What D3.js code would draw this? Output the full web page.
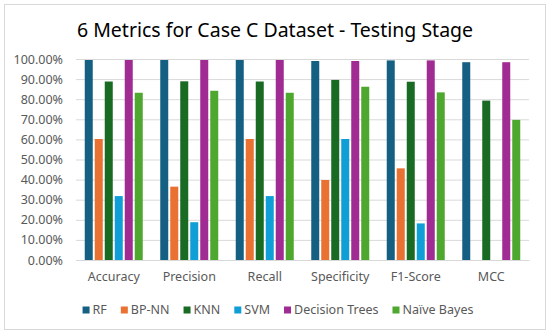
<!DOCTYPE html>
<html>
<head>
<meta charset="utf-8">
<script src="https://cdn.jsdelivr.net/npm/d3@7"></script>
<style>
  body { margin: 0; background: #fff; }
  text { font-family: "Noto Sans", "Open Sans", sans-serif; }
</style>
</head>
<body>
<div id="chart"></div>
<script>
(function () {

  const metrics = ['Accuracy', 'Precision', 'Recall', 'Specificity', 'F1-Score', 'MCC']
  const models = ['RF', 'BP-NN', 'KNN', 'SVM', 'Decision Trees', 'Naïve Bayes']
  const colors = ['#156082', '#e97132', '#196b24', '#0f9ed5', '#a02b93', '#4ea72e']

  // one array per model, values in percent, same order as metrics
  const rf = [99.5, 99.5, 99.5, 99.0, 99.3, 98.4]
  const bpnn = [60.2, 36.5, 60.2, 39.8, 45.6, 0]
  const knn = [88.8, 88.9, 88.8, 89.6, 88.7, 79.3]
  const svm = [31.8, 18.8, 31.8, 60.2, 18.2, 0]
  const decisionTrees = [99.5, 99.5, 99.5, 99.0, 99.3, 98.4]
  const naiveBayes = [83.2, 84.2, 83.2, 86.2, 83.4, 69.7]
  const yTicks = [0, 10, 20, 30, 40, 50, 60, 70, 80, 90, 100]

  const seriesValues = [rf, bpnn, knn, svm, decisionTrees, naiveBayes]

  const W = 550
  const H = 334
  const margin = { top: 59, right: 21, bottom: 74, left: 76 }
  const width = W - margin.left - margin.right
  const height = H - margin.top - margin.bottom

  const root = d3.select('#chart').append('svg')
    .attr('width', W)
    .attr('height', H)

  // chart border
  root.append('rect')
    .attr('x', 4.5).attr('y', 4.5)
    .attr('width', W - 9).attr('height', H - 9)
    .attr('fill', '#fff')
    .attr('stroke', '#d9d9d9')

  root.append('text')
    .attr('x', W / 2)
    .attr('y', 37)
    .attr('text-anchor', 'middle')
    .attr('font-size', 19.5)
    .attr('fill', '#000')
    .text('6 Metrics for Case C Dataset - Testing Stage')

  const svg = root.append('g')
    .attr('transform', 'translate(' + margin.left + ',' + margin.top + ')')

  const xPositionScale = d3.scaleBand()
    .domain(metrics)
    .range([0, width])

  const groupWidth = 60
  const xInner = d3.scaleBand()
    .domain(models)
    .range([0, groupWidth])
    .paddingInner(0.2)
    .paddingOuter(0.1)

  const yPositionScale = d3.scaleLinear()
    .domain([0, 100])
    .range([height, 0])

  const colorScale = d3.scaleOrdinal()
    .domain(models)
    .range(colors)

  // gridlines + y labels
  const yAxis = d3.axisLeft(yPositionScale)
    .tickValues(yTicks)
    .tickSize(-width)
    .tickPadding(13)
    .tickFormat(d => d.toFixed(2) + '%')

  svg.append('g')
    .attr('class', 'axis y-axis')
    .call(yAxis)
    .call(g => g.select('.domain').remove())
    .call(g => g.selectAll('line').attr('stroke', '#d9d9d9'))
    .call(g => g.selectAll('text')
      .attr('fill', '#595959')
      .attr('font-size', 12.5)
      .style('font-family', '"Noto Sans", sans-serif'))

  const rows = []
  metrics.forEach((m, i) => {
    models.forEach((s, j) => {
      rows.push({ metric: m, model: s, value: seriesValues[j][i] })
    })
  })

  const offset = (xPositionScale.bandwidth() - groupWidth) / 2

  svg.selectAll('rect.bar')
    .data(rows)
    .join('rect')
    .attr('class', 'bar')
    .attr('x', d => xPositionScale(d.metric) + offset + xInner(d.model))
    .attr('width', xInner.bandwidth())
    .attr('y', d => yPositionScale(d.value))
    .attr('height', d => height - yPositionScale(d.value))
    .attr('fill', d => colorScale(d.model))

  const xAxis = d3.axisBottom(xPositionScale)
    .tickSize(0)
    .tickPadding(12)

  svg.append('g')
    .attr('class', 'axis x-axis')
    .attr('transform', 'translate(0,' + height + ')')
    .call(xAxis)
    .call(g => g.select('.domain').attr('stroke', '#d9d9d9'))
    .call(g => g.selectAll('text')
      .attr('fill', '#595959')
      .attr('font-size', 12.5)
      .style('font-family', '"Noto Sans", sans-serif'))

  // legend, centred under the plot
  const legend = root.append('g')
  let lx = 0
  models.forEach((s, j) => {
    const item = legend.append('g').attr('transform', 'translate(' + lx + ',0)')
    item.append('rect')
      .attr('x', 0).attr('y', -3.5)
      .attr('width', 7).attr('height', 7)
      .attr('fill', colorScale(s))
    const t = item.append('text')
      .attr('x', 10)
      .attr('y', 0)
      .attr('dy', '0.35em')
      .attr('font-size', 12.5)
      .attr('fill', '#595959')
      .text(s)
    lx += 10 + t.node().getComputedTextLength() + 14
  })
  lx -= 14
  legend.attr('transform', 'translate(' + ((W - lx) / 2 + 3) + ',310)')

})();
</script>
</body>
</html>
